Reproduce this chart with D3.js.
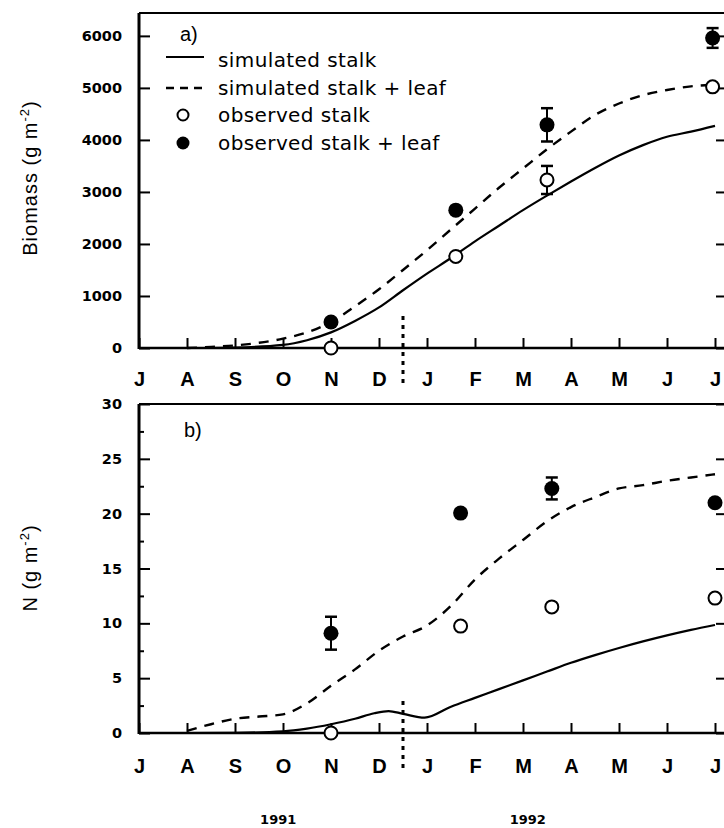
<!DOCTYPE html>
<html>
<head>
<meta charset="utf-8">
<script src="https://cdn.jsdelivr.net/npm/d3@7"></script>
<style>
  body { margin: 0; background: #fff; }
  svg { display: block; }
</style>
</head>
<body>
<div id="container"></div>
<script>
const width = 724,
  height = 828;

// months since 1 July 1991
const monthLabels = ["J", "A", "S", "O", "N", "D", "J", "F", "M", "A", "M", "J", "J"];
const yearLabels = [{ text: "1991", m: 2.9 }, { text: "1992", m: 8.1 }];

// panel a: biomass (g m-2)
const bioStalkSim = [[1, 0], [2, 10], [3, 60], [3.5, 150], [4, 300], [4.5, 520], [5, 780], [5.5, 1110], [6, 1430],
  [6.5, 1730], [7, 2050], [7.5, 2350], [8, 2650], [8.5, 2930], [9, 3200], [9.5, 3460], [10, 3700], [10.5, 3900],
  [11, 4060], [11.5, 4160], [12, 4270]];
const bioTotalSim = [[1, 0], [1.5, 20], [2, 50], [2.5, 100], [3, 180], [3.5, 300], [4, 500], [4.5, 800], [5, 1130],
  [5.5, 1500], [6, 1880], [6.5, 2280], [7, 2680], [7.5, 3080], [8, 3450], [8.5, 3820], [9, 4160], [9.5, 4480],
  [10, 4700], [10.5, 4860], [11, 4960], [11.5, 5030], [12, 5060]];
const bioStalkObs = [{ m: 4, v: 0 }, { m: 6.6, v: 1760 }, { m: 8.5, v: 3230, e: 270 }, { m: 11.95, v: 5020 }];
const bioTotalObs = [{ m: 4, v: 500 }, { m: 6.6, v: 2650 }, { m: 8.5, v: 4290, e: 320 }, { m: 11.95, v: 5960, e: 190 }];

// panel b: N (g m-2)
const nStalkSim = [[1, 0], [2, 0.02], [3, 0.15], [3.5, 0.4], [4, 0.8], [4.5, 1.3], [4.9, 1.8], [5.2, 2.0], [5.5, 1.75],
  [5.95, 1.4], [6.5, 2.4], [7, 3.2], [7.5, 4.0], [8, 4.8], [8.5, 5.6], [9, 6.4], [9.5, 7.1], [10, 7.75],
  [10.5, 8.35], [11, 8.9], [11.5, 9.4], [12, 9.85]];
const nTotalSim = [[1, 0.2], [1.5, 0.8], [2, 1.3], [2.5, 1.5], [3, 1.7], [3.5, 2.7], [4, 4.3], [4.5, 5.8], [5, 7.5],
  [5.5, 8.8], [6, 9.8], [6.5, 11.6], [7, 14.0], [7.5, 15.9], [8, 17.6], [8.5, 19.3], [9, 20.6], [9.5, 21.5],
  [10, 22.3], [10.5, 22.6], [11, 23.0], [11.5, 23.3], [12, 23.6]];
const nStalkObs = [{ m: 4, v: 0 }, { m: 6.7, v: 9.75 }, { m: 8.6, v: 11.5 }, { m: 12, v: 12.3 }];
const nTotalObs = [{ m: 4, v: 9.1, e: 1.5 }, { m: 6.7, v: 20.05 }, { m: 8.6, v: 22.3, e: 1.0 }, { m: 12, v: 21.0 }];

const legendItems = ["simulated stalk", "simulated stalk + leaf", "observed stalk", "observed stalk + leaf"];

const x = d3.scaleLinear().domain([0, 12]).range([139, 715]);
const xRight = 725;

const svg = d3.select("#container")
  .append("svg")
  .attr("width", width)
  .attr("height", height)
  .style("font-family", "'Liberation Sans', Arial, sans-serif");

const line = d3.line().x(d => x(d[0])).curve(d3.curveMonotoneX);

function panel(cfg) {
  const y = cfg.y;
  const g = svg.append("g");

  // frame top + right
  g.append("line")
    .attr("x1", x.range()[0]).attr("x2", xRight)
    .attr("y1", y.range()[1]).attr("y2", y.range()[1])
    .attr("stroke", "#000").attr("stroke-width", 2);

  g.append("g")
    .attr("transform", `translate(${xRight},0)`)
    .call(d3.axisRight(y).tickValues(cfg.ticks).tickSize(-9).tickSizeOuter(0).tickFormat(""))
    .call(a => a.selectAll("line").attr("stroke-width", 2));

  // left axis
  const yAxis = g.append("g")
    .attr("transform", `translate(${x.range()[0]},0)`)
    .call(d3.axisLeft(y).tickValues(cfg.ticks).tickSize(-11).tickSizeOuter(0).tickPadding(17)
      .tickFormat(d3.format("d")));
  yAxis.select(".domain").attr("stroke-width", 3)
    .attr("d", `M0,${y.range()[0] + 1}V${y.range()[1]}`);
  yAxis.selectAll(".tick line").attr("stroke-width", 2);
  yAxis.selectAll(".tick text")
    .style("font-family", "'DejaVu Sans', sans-serif")
    .style("font-weight", "bold")
    .style("font-size", "14.5px");

  if (cfg.minor) {
    g.append("g")
      .attr("transform", `translate(${x.range()[0]},0)`)
      .call(d3.axisLeft(y).tickValues(cfg.minor).tickSize(-5).tickFormat(""))
      .call(a => a.select(".domain").remove())
      .call(a => a.selectAll("line").attr("stroke-width", 2));
  }

  // bottom axis
  const xAxis = g.append("g")
    .attr("transform", `translate(0,${y.range()[0]})`)
    .call(d3.axisBottom(x).tickValues(d3.range(13)).tickSize(-10).tickSizeOuter(0).tickPadding(cfg.labelPad)
      .tickFormat((d, i) => monthLabels[i]));
  xAxis.select(".domain").attr("stroke-width", 2.5)
    .attr("d", `M${x.range()[0]},0H${xRight}`);
  xAxis.selectAll(".tick line").attr("stroke-width", 2);
  xAxis.selectAll(".tick text")
    .style("font-family", "'Liberation Sans', Arial, sans-serif")
    .style("font-weight", "bold")
    .style("font-size", "20px");

  // year divider
  g.append("line")
    .attr("x1", x(5.5)).attr("x2", x(5.5))
    .attr("y1", y.range()[0] - 32).attr("y2", y.range()[0] + 40)
    .attr("stroke", "#000").attr("stroke-width", 3)
    .attr("stroke-dasharray", "4,5");

  // simulated lines
  line.y(d => y(d[1]));
  g.append("path").datum(cfg.stalkSim)
    .attr("d", line).attr("fill", "none")
    .attr("stroke", "#000").attr("stroke-width", 2.2);
  g.append("path").datum(cfg.totalSim)
    .attr("d", line).attr("fill", "none")
    .attr("stroke", "#000").attr("stroke-width", 2.4)
    .attr("stroke-dasharray", "10,8");

  // error bars
  const errs = cfg.stalkObs.concat(cfg.totalObs).filter(d => d.e);
  const eb = g.selectAll("g.err").data(errs).join("g").attr("class", "err");
  eb.append("line")
    .attr("x1", d => x(d.m)).attr("x2", d => x(d.m))
    .attr("y1", d => y(d.v - d.e)).attr("y2", d => y(d.v + d.e))
    .attr("stroke", "#000").attr("stroke-width", 2);
  [-1, 1].forEach(s => {
    eb.append("line")
      .attr("x1", d => x(d.m) - 6).attr("x2", d => x(d.m) + 6)
      .attr("y1", d => y(d.v + s * d.e)).attr("y2", d => y(d.v + s * d.e))
      .attr("stroke", "#000").attr("stroke-width", 2.5);
  });

  // observed points
  g.selectAll("circle.open").data(cfg.stalkObs).join("circle")
    .attr("class", "open")
    .attr("cx", d => x(d.m)).attr("cy", d => y(d.v)).attr("r", 6.5)
    .attr("fill", "#fff").attr("stroke", "#000").attr("stroke-width", 2);
  g.selectAll("circle.filled").data(cfg.totalObs).join("circle")
    .attr("class", "filled")
    .attr("cx", d => x(d.m)).attr("cy", d => y(d.v)).attr("r", 7.5)
    .attr("fill", "#000");

  // panel letter
  g.append("text")
    .attr("x", cfg.letterX).attr("y", cfg.letterY)
    .style("font-size", "20px")
    .text(cfg.letter);

  // y title
  const t = g.append("text")
    .attr("transform", `translate(37,${cfg.titleY}) rotate(-90)`)
    .attr("text-anchor", "middle")
    .style("font-size", "20px")
    .style("letter-spacing", "1px");
  t.append("tspan").text(cfg.title);
  t.append("tspan").attr("dy", -8).style("font-size", "13px").text("-2");
  t.append("tspan").attr("dy", 8).text(")");

  return g;
}

panel({
  y: d3.scaleLinear().domain([0, 6440]).range([348, 13]),
  ticks: d3.range(0, 6001, 1000),
  labelPad: 24,
  stalkSim: bioStalkSim, totalSim: bioTotalSim,
  stalkObs: bioStalkObs, totalObs: bioTotalObs,
  letter: "a)", letterX: 180, letterY: 41,
  title: "Biomass  (g m", titleY: 178
});

panel({
  y: d3.scaleLinear().domain([0, 30]).range([733, 404]),
  ticks: d3.range(0, 31, 5),
  minor: d3.range(2.5, 30, 5),
  labelPad: 26,
  stalkSim: nStalkSim, totalSim: nTotalSim,
  stalkObs: nStalkObs, totalObs: nTotalObs,
  letter: "b)", letterX: 184, letterY: 437,
  title: "N (g m", titleY: 568
});

// legend (panel a)
const leg = svg.append("g").style("font-family", "'DejaVu Sans', sans-serif")
  .style("font-size", "20px").style("letter-spacing", "0.4px");
const legY = [60, 88, 115, 143];
leg.selectAll("text").data(legendItems).join("text")
  .attr("x", 218).attr("y", (d, i) => legY[i] + 7)
  .text(d => d);
leg.append("line").attr("x1", 166).attr("x2", 204).attr("y1", legY[0] - 3).attr("y2", legY[0] - 3)
  .attr("stroke", "#000").attr("stroke-width", 2);
leg.append("line").attr("x1", 166).attr("x2", 204).attr("y1", legY[1]).attr("y2", legY[1])
  .attr("stroke", "#000").attr("stroke-width", 2.4).attr("stroke-dasharray", "8,6");
leg.append("circle").attr("cx", 183).attr("cy", legY[2]).attr("r", 5.5)
  .attr("fill", "#fff").attr("stroke", "#000").attr("stroke-width", 2);
leg.append("circle").attr("cx", 183).attr("cy", legY[3]).attr("r", 6.5).attr("fill", "#000");

// year labels
svg.selectAll("text.year").data(yearLabels).join("text")
  .attr("class", "year")
  .attr("x", d => x(d.m)).attr("y", 824)
  .attr("text-anchor", "middle")
  .style("font-family", "'DejaVu Sans', sans-serif")
  .style("font-weight", "bold")
  .style("font-size", "13px")
  .text(d => d.text);
</script>
</body>
</html>
